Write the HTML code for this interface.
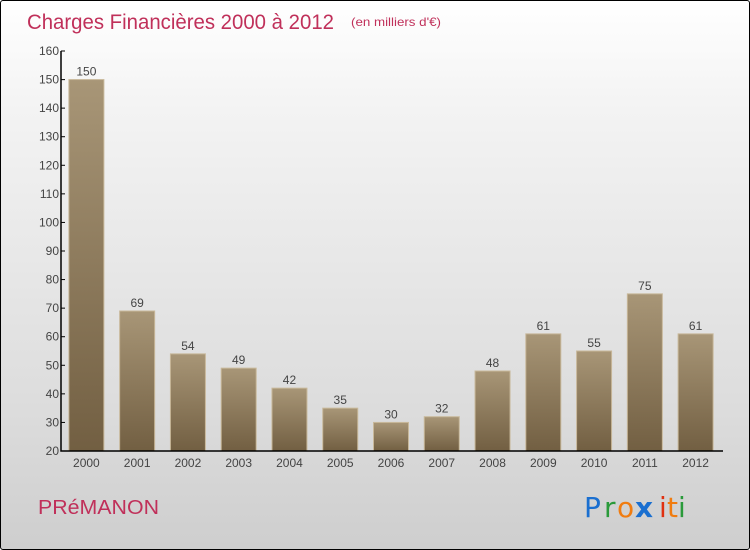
<!DOCTYPE html>
<html><head><meta charset="utf-8"><style>
body{margin:0;}
#wrap{position:relative;width:748px;height:548px;border:1px solid #000;border-radius:3px;overflow:hidden;background:linear-gradient(#ffffff,#f3f3f3 20%,#dcdcdc 75%,#cecece);font-family:"Liberation Sans",sans-serif;}
svg{position:absolute;left:0;top:0;}
</style></head><body>
<div id="wrap">
<svg id="chart" width="750" height="550">
<defs><linearGradient id="bg" x1="0" y1="0" x2="0" y2="1"><stop offset="0" stop-color="#a89677"/><stop offset="1" stop-color="#725f42"/></linearGradient></defs>
<text x="26" y="28" font-size="21" fill="#c0305a" textLength="307" lengthAdjust="spacingAndGlyphs">Charges Financières 2000 à 2012</text>
<text x="350" y="25" font-size="12" fill="#c0305a" textLength="90" lengthAdjust="spacingAndGlyphs">(en milliers d'€)</text>
<text x="37" y="513" font-size="20" fill="#c0305a" textLength="121" lengthAdjust="spacingAndGlyphs">PRéMANON</text>
<g font-size="28" font-family="'DejaVu Sans',sans-serif">
<text x="583" y="516" fill="#1a6fd0">P</text><text x="603" y="516" fill="#2a9a3a">r</text><text x="616" y="516" fill="#f07c10">o</text><text x="634" y="516" fill="#1a6fd0" font-weight="bold">x</text><text x="658" y="516" fill="#e03010">i</text><text x="666" y="516" fill="#f07c10">t</text><text x="677" y="516" fill="#2a9a3a">i</text>
</g>
</svg>
</div>
<script>
const categories=["2000","2001","2002","2003","2004","2005","2006","2007","2008","2009","2010","2011","2012"];
const values=[150,69,54,49,42,35,30,32,48,61,55,75,61];
const yTicks=[20,30,40,50,60,70,80,90,100,110,120,130,140,150,160];
const NS="http://www.w3.org/2000/svg";
const svg=document.getElementById('chart');
const x0=60,x1=720,yTop=50,yBot=450,yMin=20,yMax=160;
const y=v=>yBot-(v-yMin)/(yMax-yMin)*(yBot-yTop);
const step=(x1-x0)/categories.length;
const xc=i=>x0+step*(i+0.5);
function mk(t,a){const e=document.createElementNS(NS,t);for(const k in a)e.setAttribute(k,a[k]);svg.appendChild(e);return e;}
values.forEach((v,i)=>{
 const b=mk('rect',{x:xc(i)-17.5,y:y(v),width:35,height:yBot-y(v),fill:'url(#bg)',stroke:'#c8b89a','stroke-width':1});
 
 
 const t=mk('text',{x:xc(i),y:y(v)-4,'text-anchor':'middle','font-size':12,fill:'#444'});
 t.textContent=v;
 
 
 const c=mk('text',{x:xc(i),y:466,'text-anchor':'middle','font-size':12,fill:'#444'});
 c.textContent=categories[i];
 
 
});
const ax=mk('path',{d:`M${x0} ${yTop}V${yBot}H${x1+2}`,stroke:'#000','stroke-width':1.5,fill:'none'});


yTicks.forEach(v=>{
 const tk=mk('line',{x1:x0,x2:x0+4,y1:y(v),y2:y(v),stroke:'#000'});
 
 
 const t=mk('text',{x:x0-2,y:y(v)+4,'text-anchor':'end','font-size':12,fill:'#444'});
 t.textContent=v;
 
 
});
</script>
</body></html>
